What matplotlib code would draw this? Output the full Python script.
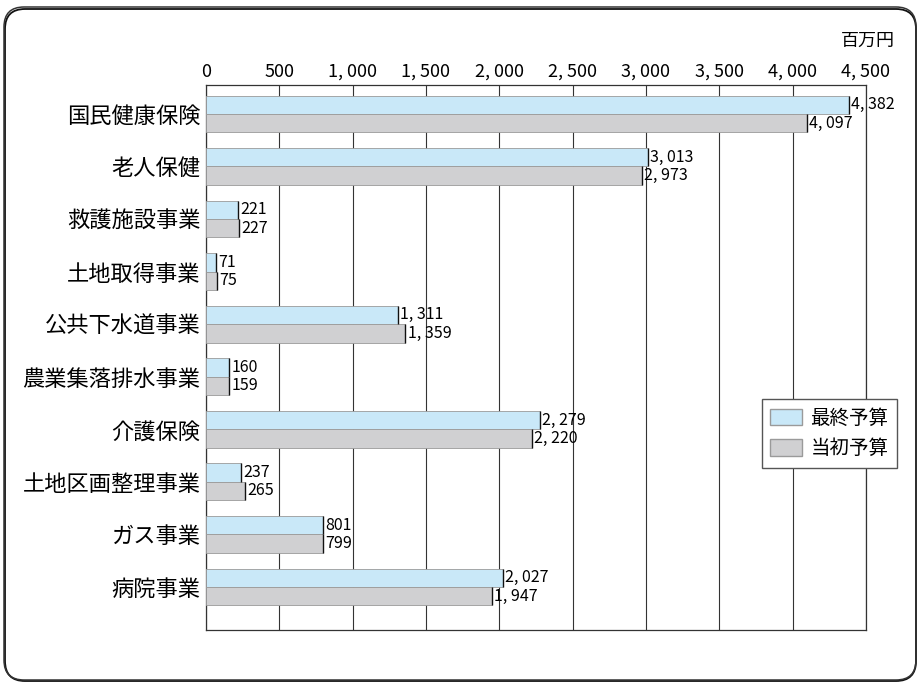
import numpy as np
import matplotlib.pyplot as plt
from matplotlib.patches import FancyBboxPatch, Patch

plt.rcParams['font.family'] = ['Noto Sans CJK JP', 'DejaVu Sans']

categories = ['国民健康保険', '老人保健', '救護施設事業', '土地取得事業', '公共下水道事業',
              '農業集落排水事業', '介護保険', '土地区画整理事業', 'ガス事業', '病院事業']
final_budget = [4382, 3013, 221, 71, 1311, 160, 2279, 237, 801, 2027]
initial_budget = [4097, 2973, 227, 75, 1359, 159, 2220, 265, 799, 1947]
xticks = [0, 500, 1000, 1500, 2000, 2500, 3000, 3500, 4000, 4500]

blue = '#c9e8f8'
gray = '#d0d0d2'

def fmt(v):
  return f"{v:,}".replace(",", ", ")

fig = plt.figure(figsize=(9.2, 6.83), dpi=100)

# rounded frame around the whole chart (pixel coordinates), heavier along the bottom
shadow = FancyBboxPatch((5, 2), 911, 672, boxstyle="round,pad=0,rounding_size=20",
                        transform=None, fill=False, edgecolor='#111111', linewidth=1.3)
frame = FancyBboxPatch((4, 3), 912, 673, boxstyle="round,pad=0,rounding_size=20",
                       transform=None, fill=False, edgecolor='#333333', linewidth=1.1)
fig.patches.append(shadow)
fig.patches.append(frame)

ax = fig.add_axes([0.2239, 0.0776, 0.7174, 0.7979])
y = np.arange(len(categories))
h = 0.35

ax.barh(y - h / 2, final_budget, height=h, color=blue, edgecolor='#9a9a9a', linewidth=0.6, zorder=3)
ax.barh(y + h / 2, initial_budget, height=h, color=gray, edgecolor='#9a9a9a', linewidth=0.6, zorder=3)

# dark end marks and value labels
for yi, v in zip(y - h / 2, final_budget):
  ax.vlines(v, yi - h / 2, yi + h / 2, color='#111111', linewidth=1.0, zorder=4)
  ax.text(v + 15, yi, fmt(v), va='center', ha='left', fontsize=11.5, zorder=5)
for yi, v in zip(y + h / 2, initial_budget):
  ax.vlines(v, yi - h / 2, yi + h / 2, color='#111111', linewidth=1.0, zorder=4)
  ax.text(v + 15, yi, fmt(v), va='center', ha='left', fontsize=11.5, zorder=5)

ax.set_xlim(0, 4500)
ax.set_ylim(9.82, -0.55)
ax.set_xticks(xticks)
ax.set_xticklabels([fmt(t) for t in xticks], fontsize=13)
ax.xaxis.tick_top()
ax.tick_params(axis='x', length=0, pad=3)
ax.set_yticks(y)
ax.set_yticklabels(categories, fontsize=16)
ax.tick_params(axis='y', length=0, pad=4)
ax.grid(axis='x', color='#333333', linewidth=0.8, zorder=0)
ax.set_axisbelow(True)
for side in ['left', 'right', 'top', 'bottom']:
  ax.spines[side].set_color('#333333')
  ax.spines[side].set_linewidth(0.9)

ax.legend(handles=[Patch(facecolor=blue, edgecolor='#9a9a9a', label='最終予算'),
                   Patch(facecolor=gray, edgecolor='#9a9a9a', label='当初予算')],
          loc='upper left', bbox_to_anchor=(0.842, 0.424), borderaxespad=0, fontsize=14,
          frameon=True, fancybox=False, edgecolor='#555555', framealpha=1,
          handlelength=1.6, handleheight=0.95, borderpad=0.45, labelspacing=0.5,
          handletextpad=0.45)

fig.text(0.973, 0.94, '百万円', ha='right', va='center', fontsize=13)

fig.savefig('out.png', dpi=100)
